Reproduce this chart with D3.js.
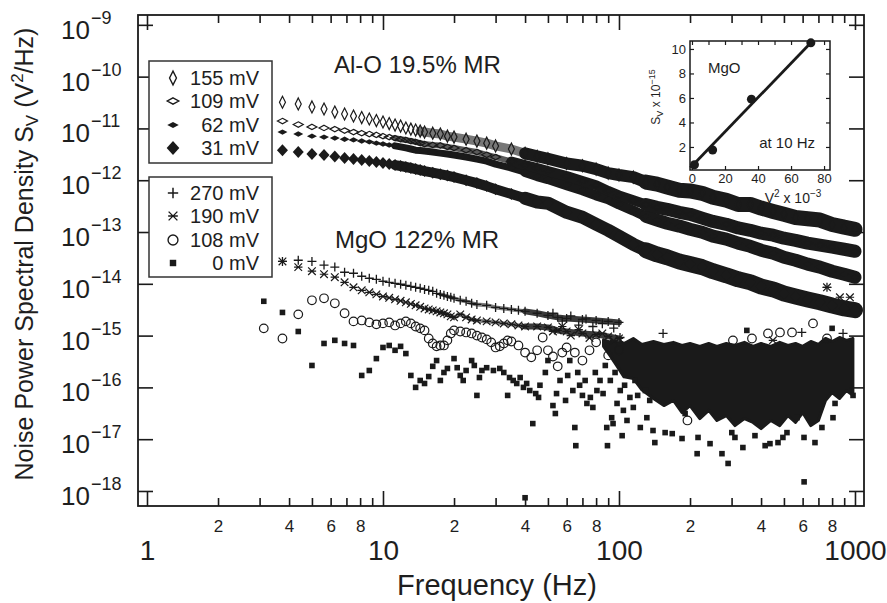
<!DOCTYPE html>
<html>
<head>
<meta charset="utf-8">
<title>Noise power spectral density</title>
<script src="https://cdn.jsdelivr.net/npm/d3@7"></script>
<style>
  html, body { margin: 0; padding: 0; background: #fff; }
  svg text { font-family: "Liberation Sans", Arial, Helvetica, sans-serif; fill: #1e1e1e; }
</style>
</head>
<body>
<svg id="chart" width="887" height="603"></svg>
<script>
// ---- data ----

// Al-O junction (19.5% MR): frequency grid (Hz) and S_V (V^2/Hz) per bias
const alFreq = [3.75, 4.375, 5, 5.625, 6.25, 6.875, 7.5, 8.125, 8.75, 9.375, 10, 10.625, 11.25, 11.875, 12.5, 13.125, 13.75, 14.375, 15, 16.25, 17.5, 18.75, 20, 22.5, 25, 27.5, 30, 35, 40, 45, 50, 60, 70, 80, 90, 100, 115, 130, 145, 160, 180, 200, 225, 250, 285, 320, 360, 400, 450, 500, 560, 630, 710, 800, 900, 1000];
const alO155 = [3.2e-11, 2.97e-11, 2.6e-11, 2.37e-11, 2.07e-11, 1.9e-11, 1.74e-11, 1.62e-11, 1.52e-11, 1.42e-11, 1.33e-11, 1.24e-11, 1.16e-11, 1.11e-11, 1.02e-11, 9.7e-12, 9.3e-12, 8.9e-12, 8.5e-12, 8.1e-12, 7.8e-12, 7.1e-12, 6.8e-12, 6.2e-12, 5.7e-12, 5.2e-12, 4.6e-12, 4.0e-12, 3.3e-12, 2.9e-12, 2.6e-12, 2.1e-12, 1.9e-12, 1.64e-12, 1.37e-12, 1.26e-12, 1.15e-12, 9.2e-13, 8.4e-13, 7.4e-13, 6.4e-13, 6.2e-13, 5.6e-13, 4.7e-13, 4.1e-13, 3.4e-13, 3.4e-13, 2.9e-13, 2.5e-13, 2.2e-13, 1.9e-13, 1.8e-13, 1.7e-13, 1.4e-13, 1.24e-13, 1.13e-13];
const alO109 = [1.39e-11, 1.19e-11, 1.07e-11, 1.02e-11, 9.7e-12, 9.1e-12, 8.5e-12, 8.1e-12, 7.8e-12, 7.5e-12, 7.1e-12, 6.8e-12, 6.5e-12, 6.2e-12, 6.0e-12, 5.7e-12, 5.5e-12, 5.2e-12, 5.0e-12, 4.8e-12, 4.7e-12, 4.4e-12, 4.2e-12, 3.8e-12, 3.5e-12, 3.1e-12, 2.8e-12, 2.3e-12, 1.96e-12, 1.72e-12, 1.5e-12, 1.2e-12, 9.6e-13, 8.0e-13, 6.2e-13, 5.1e-13, 4.1e-13, 3.4e-13, 3.0e-13, 2.75e-13, 2.4e-13, 2.2e-13, 1.85e-13, 1.6e-13, 1.41e-13, 1.2e-13, 1.08e-13, 9.5e-14, 8.7e-14, 7.6e-14, 6.9e-14, 6.1e-14, 5.6e-14, 5.1e-14, 4.65e-14, 4.25e-14];
const alO62 = [8.5e-12, 7.8e-12, 7.1e-12, 6.8e-12, 6.5e-12, 6.2e-12, 6.0e-12, 5.7e-12, 5.5e-12, 5.2e-12, 5.0e-12, 4.8e-12, 4.6e-12, 4.4e-12, 4.2e-12, 4.0e-12, 3.8e-12, 3.73e-12, 3.65e-12, 3.5e-12, 3.34e-12, 3.2e-12, 3.06e-12, 2.8e-12, 2.56e-12, 2.34e-12, 2.05e-12, 1.72e-12, 1.44e-12, 1.2e-12, 1.05e-12, 8.0e-13, 6.4e-13, 5.1e-13, 4.3e-13, 3.4e-13, 2.6e-13, 2.0e-13, 1.7e-13, 1.48e-13, 1.3e-13, 1.13e-13, 9.9e-14, 8.3e-14, 7.3e-14, 6.1e-14, 5.3e-14, 4.45e-14, 3.9e-14, 3.25e-14, 2.85e-14, 2.4e-14, 2.1e-14, 1.75e-14, 1.53e-14, 1.34e-14];
const alO31 = [3.8e-12, 3.5e-12, 3.2e-12, 3.06e-12, 2.86e-12, 2.68e-12, 2.56e-12, 2.45e-12, 2.34e-12, 2.24e-12, 2.14e-12, 2.05e-12, 1.96e-12, 1.88e-12, 1.8e-12, 1.72e-12, 1.64e-12, 1.57e-12, 1.5e-12, 1.4e-12, 1.31e-12, 1.23e-12, 1.15e-12, 1.0e-12, 8.8e-13, 7.7e-13, 6.7e-13, 5.4e-13, 4.5e-13, 3.8e-13, 3.6e-13, 2.4e-13, 1.93e-13, 1.41e-13, 1.08e-13, 8.3e-14, 5.8e-14, 4.45e-14, 3.7e-14, 3.25e-14, 2.7e-14, 2.4e-14, 2.1e-14, 1.75e-14, 1.46e-14, 1.22e-14, 1.07e-14, 8.9e-15, 7.8e-15, 6.5e-15, 5.7e-15, 5.0e-15, 4.4e-15, 3.8e-15, 3.35e-15, 3.1e-15];

// MgO junction (122% MR)
const mgFreq = [3.75, 4.375, 5, 5.625, 6.25, 6.875, 7.5, 8.125, 8.75, 9.375, 10, 10.625, 11.25, 11.875, 12.5, 13.125, 13.75, 14.375, 15, 15.625, 16.25, 16.875, 17.5, 18.125, 18.75, 19.375, 20, 21.25, 22.5, 23.75, 25, 27.5, 30, 32.5, 35, 37.5, 40, 45, 50, 55, 60, 70, 80, 90, 100];
const mg270 = [2.7e-14, 2.85e-14, 2.7e-14, 2.3e-14, 2.1e-14, 1.67e-14, 1.6e-14, 1.4e-14, 1.28e-14, 1.22e-14, 1.12e-14, 1.07e-14, 1.02e-14, 9.8e-15, 9.35e-15, 8.95e-15, 8.55e-15, 8.2e-15, 7.8e-15, 7.5e-15, 7.15e-15, 6.55e-15, 6.25e-15, 6.0e-15, 5.7e-15, 5.5e-15, 5.25e-15, 4.8e-15, 4.6e-15, 4.2e-15, 4.0e-15, 3.85e-15, 3.5e-15, 3.35e-15, 3.2e-15, 3.07e-15, 2.94e-15, 2.7e-15, 2.45e-15, 2.25e-15, 2.15e-15, 2.05e-15, 1.96e-15, 1.88e-15, 1.8e-15];
const mg190 = [2.7e-14, 2.1e-14, 1.75e-14, 1.53e-14, 1.34e-14, 1.07e-14, 8.55e-15, 7.5e-15, 6.85e-15, 6.25e-15, 5.7e-15, 5.36e-15, 5.0e-15, 4.7e-15, 4.4e-15, 4.1e-15, 3.85e-15, 3.6e-15, 3.35e-15, 3.2e-15, 3.07e-15, 2.94e-15, 2.8e-15, 2.7e-15, 2.57e-15, 2.35e-15, 2.25e-15, 2.57e-15, 2.25e-15, 2.05e-15, 1.96e-15, 1.88e-15, 1.8e-15, 1.72e-15, 1.65e-15, 1.57e-15, 1.5e-15, 1.5e-15, 1.44e-15, 1.26e-15, 1.2e-15, 1.1e-15, 1.05e-15, 9.65e-16, 8.8e-16];
const mg270Scatter = [[52.5, 2.7e-15], [57.5, 1.9e-15], [62.5, 2.4e-15], [67.5, 1.6e-15], [72.5, 2.1e-15], [77.5, 1.5e-15], [85, 1.7e-15], [95, 1.4e-15], [101, 9.2e-16], [153.75, 1.1e-15], [595, 1.15e-15], [761, 8.55e-15], [890, 1.1e-15]];
const mg190Scatter = [[52.5, 1.2e-15], [57.5, 1.5e-15], [62.5, 1.0e-15], [67.5, 1.3e-15], [75, 9.0e-16], [85, 1.1e-15], [95, 8.0e-16], [449, 8.1e-16], [761, 8.55e-15], [863, 5.5e-15], [952, 5.5e-15]];
const mg108 = [[3.125, 1.38e-15], [3.75, 8.8e-16], [4.375, 2.57e-15], [5, 4.8e-15], [5.625, 5.25e-15], [6.25, 4.2e-15], [6.875, 2.7e-15], [7.5, 1.88e-15], [8.125, 1.96e-15], [8.75, 1.8e-15], [9.375, 1.65e-15], [10, 1.72e-15], [10.625, 1.8e-15], [11.25, 1.57e-15], [11.875, 1.72e-15], [12.5, 1.88e-15], [13.125, 1.72e-15], [13.75, 1.5e-15], [14.375, 1.38e-15], [15, 1.26e-15], [15.625, 8.8e-16], [16.25, 7.05e-16], [16.875, 6.2e-16], [17.5, 6.45e-16], [18.125, 6.45e-16], [18.75, 8.1e-16], [19.375, 1.1e-15], [20, 1.26e-15], [21.25, 1.2e-15], [22.5, 1.15e-15], [23.75, 1.1e-15], [25, 1.0e-15], [26.25, 9.2e-16], [27.5, 8.45e-16], [28.75, 7.4e-16], [30, 5.9e-16], [31.25, 6.2e-16], [32.5, 7.05e-16], [33.75, 8.1e-16], [35, 7.7e-16], [37.5, 6.45e-16], [40, 4.7e-16], [42.5, 3.8e-16], [45, 5.2e-16], [47.5, 9.2e-16], [50, 5.2e-16], [52.5, 3.95e-16], [55, 2.55e-16], [57.5, 4.7e-16], [60, 5.9e-16], [65, 4.7e-16], [70, 3.3e-16], [75, 5.2e-16], [80, 7.4e-16], [90, 4.15e-16], [100, 5.2e-16], [195, 2.3e-17], [304, 8.1e-16], [366, 8.8e-16], [428, 1.1e-15], [481, 1.15e-15], [541, 1.15e-15], [664, 1.72e-15], [761, 8.8e-16]];
const mg0 = [[3.125, 4.6e-15], [3.75, 2.8e-15], [4.375, 1.2e-15], [5, 2.65e-16], [5.625, 7.05e-16], [6.25, 8.1e-16], [6.875, 7.05e-16], [7.5, 6.45e-16], [8.125, 1.7e-16], [8.75, 2.12e-16], [9.375, 3.6e-16], [10, 5.9e-16], [10.625, 6.45e-16], [11.25, 5.2e-16], [11.875, 6.2e-16], [12.5, 4.5e-16], [13.125, 1.7e-16], [13.75, 1.0e-16], [14.375, 1.36e-16], [15, 1.19e-16], [15.625, 1.62e-16], [16.25, 2.55e-16], [16.875, 3.3e-16], [17.5, 1.36e-16], [18.125, 1.94e-16], [18.75, 2.32e-16], [20, 3.6e-16], [20.625, 2.4e-16], [21.25, 1.7e-16], [21.875, 1.36e-16], [22.5, 2.12e-16], [23.75, 3.3e-16], [24.375, 2.65e-16], [25, 7.0e-17], [25.625, 1.55e-16], [26.25, 2.12e-16], [27.5, 2.4e-16], [29.375, 2.12e-16], [31.25, 2.32e-16], [32.5, 1.94e-16], [33.75, 7.0e-17], [34.375, 1.55e-16], [35.625, 1.36e-16], [36.875, 1.19e-16], [38.125, 1.55e-16], [39.375, 1.0e-16], [40, 7.4e-19], [40.625, 1.19e-16], [41.875, 8.7e-17], [43.125, 2.0e-17], [44.375, 7.6e-17], [45.625, 6.4e-17], [46.25, 1.1e-16], [48.75, 1.94e-16], [50, 3.3e-16], [52.5, 4.46e-17], [53.75, 3.13e-17], [54.375, 7.6e-17], [56.25, 1.36e-16], [59.375, 5.6e-17], [60.625, 1.7e-16], [61.875, 3.3e-16], [63.75, 8.7e-17], [65, 1.68e-17], [65.625, 7.5e-18], [66.875, 1.94e-16], [68.125, 1.1e-16], [70, 7.0e-17], [71.875, 1.36e-16], [73.125, 4.9e-17], [75.625, 6.4e-17], [77.5, 4.1e-17], [79.375, 1.94e-16], [80.625, 8.7e-17], [83.125, 1.36e-16], [85.625, 7.6e-17], [87.5, 2.65e-16], [88.75, 1.68e-17], [89.375, 7.5e-18], [91.875, 1.36e-16], [93.125, 2.6e-17], [94.375, 2.0e-17], [96.25, 1.94e-16], [98.125, 4.9e-17], [101.25, 8.7e-17], [103.125, 1.17e-17], [104.375, 3.6e-17], [105.625, 1.1e-16], [108.125, 2.3e-17], [111.25, 6.4e-17], [115, 4.1e-17], [116.875, 1.36e-16], [120, 7.0e-17], [123.125, 1.68e-17], [129.375, 8.7e-17], [131.25, 2.6e-17], [135, 5.6e-17], [139.375, 1.47e-17], [141.875, 8.6e-18], [156.875, 1.34e-17], [168.125, 1.28e-17], [185, 1.03e-17], [190.625, 3.13e-17], [214.375, 5.25e-18], [216.25, 1.08e-17], [243.125, 8.2e-18], [273.125, 5.25e-18], [290, 3.4e-18], [300.625, 1.34e-17], [310, 1.08e-17], [335, 6.9e-18], [348.125, 1.26e-15], [376.875, 1.17e-17], [416.25, 7.5e-18], [436.25, 8.2e-18], [471.875, 8.6e-18], [495, 1.08e-17], [515, 1.34e-17], [568.125, 2.6e-17], [608.125, 1.08e-17], [608.75, 1.5e-18], [676.875, 8.6e-18], [724.375, 1.68e-17], [800, 1.38e-15], [806.875, 2.6e-17], [823.125, 4.9e-17], [981.25, 7.0e-17]];

// dense MgO noise floor above ~90 Hz: upper and lower edge of the black cloud
const floorFreq = [86, 92, 98, 105, 115, 125, 140, 155, 170, 185, 200, 220, 240, 260, 285, 310, 340, 370, 400, 440, 480, 520, 560, 600, 650, 700, 750, 800, 860, 920, 980];
const floorTop = [8.4e-16, 7.4e-16, 8.1e-16, 7.05e-16, 8.8e-16, 6.75e-16, 7.7e-16, 6.75e-16, 7.4e-16, 6.45e-16, 7.05e-16, 6.2e-16, 7.05e-16, 6.2e-16, 7.05e-16, 6.45e-16, 7.4e-16, 6.2e-16, 7.05e-16, 6.2e-16, 7.4e-16, 6.45e-16, 7.05e-16, 6.2e-16, 7.7e-16, 6.75e-16, 8.8e-16, 7.7e-16, 9.2e-16, 8.1e-16, 8.8e-16];
const floorBottom = [6.2e-16, 4.0e-16, 2.6e-16, 1.6e-16, 1.49e-16, 9.0e-17, 6.1e-17, 4.46e-17, 5.6e-17, 3.27e-17, 4.46e-17, 2.5e-17, 3.6e-17, 2.3e-17, 2.86e-17, 1.83e-17, 2.5e-17, 2.1e-17, 1.6e-17, 2.3e-17, 1.83e-17, 2.86e-17, 2.1e-17, 3.27e-17, 1.83e-17, 2.3e-17, 5.6e-17, 7.95e-17, 6.1e-17, 8.7e-17, 7.0e-17];

// inset: S_V at 10 Hz (x 1e-15) against V^2 (x 1e-3)
const insetV2 = [1.5, 12.5, 36, 72];
const insetSv = [0.55, 1.75, 5.9, 10.5];
const insetFitV2 = [-1, 73];
const insetFitSv = [0.3, 10.65];

// axis ticks and labels
const xMajorTicks = [1, 10, 100, 1000];
const xMajorLabels = ['1', '10', '100', '1000'];
const xMinorTicks = [2, 3, 4, 5, 6, 7, 8, 9, 20, 30, 40, 50, 60, 70, 80, 90, 200, 300, 400, 500, 600, 700, 800, 900];
const xMinorLabels = ['2', '', '4', '', '6', '', '8', '', '2', '', '4', '', '6', '', '8', '', '2', '', '4', '', '6', '', '8', ''];
const yTicks = [1e-9, 1e-10, 1e-11, 1e-12, 1e-13, 1e-14, 1e-15, 1e-16, 1e-17, 1e-18];
const yExponents = ['−9', '−10', '−11', '−12', '−13', '−14', '−15', '−16', '−17', '−18'];
const insetXTicks = [0, 20, 40, 60, 80];
const insetXMinor = [0, 10, 20, 30, 40, 50, 60, 70, 80];
const insetYTicks = [2, 4, 6, 8, 10];

// ---- drawing ----
const ink = '#1a1a1a';
const svg = d3.select('#chart');
const plot = { left: 138, right: 864, top: 15, bottom: 506 };

const x = d3.scaleLog().domain([0.916, 1092]).range([plot.left, plot.right]);
const y = d3.scaleLog().domain([Math.pow(10, -18.29), Math.pow(10, -8.81)]).range([plot.bottom, plot.top]);

const shapes = {
  tallDiamond: 'M0,-6L3,0L0,6L-3,0Z',
  flatDiamond: 'M0,-2.7L5,0L0,2.7L-5,0Z',
  bigDiamond: 'M0,-6L5.5,0L0,6L-5.5,0Z',
  plus: 'M-4.5,0H4.5M0,-4.5V4.5',
  cross: 'M-3.8,-3.8L3.8,3.8M-3.8,3.8L3.8,-3.8M-4.2,0H4.2',
  circle: 'M4.3,0A4.3,4.3 0 1 1 -4.3,0A4.3,4.3 0 1 1 4.3,0',
  square: 'M-2.8,-2.8H2.8V2.8H-2.8Z'
};

const markerStyle = {
  tallDiamond: { fill: 'none', stroke: ink, width: 1.2 },
  flatDiamond: { fill: 'none', stroke: ink, width: 1.2 },
  filledFlat: { fill: ink, stroke: 'none', width: 0 },
  bigDiamond: { fill: ink, stroke: 'none', width: 0 },
  plus: { fill: 'none', stroke: ink, width: 1.3 },
  cross: { fill: 'none', stroke: ink, width: 1.2 },
  circle: { fill: 'none', stroke: ink, width: 1.2 },
  square: { fill: ink, stroke: 'none', width: 0 }
};
const shapePath = (shape) => shapes[shape === 'filledFlat' ? 'flatDiamond' : shape];

function drawMarkers(parent, points, shape) {
  const style = markerStyle[shape];
  parent.append('g')
    .selectAll('path')
    .data(points)
    .join('path')
    .attr('transform', (d) => `translate(${x(d[0])},${y(d[1])})`)
    .attr('d', shapePath(shape))
    .attr('fill', style.fill)
    .attr('stroke', style.stroke)
    .attr('stroke-width', style.width);
}

svg.append('defs')
  .append('clipPath')
  .attr('id', 'plotClip')
  .append('rect')
  .attr('x', plot.left)
  .attr('y', plot.top)
  .attr('width', plot.right - plot.left)
  .attr('height', plot.bottom - plot.top);

const layer = svg.append('g').attr('clip-path', 'url(#plotClip)');
const line = d3.line().x((d) => x(d[0])).y((d) => y(d[1]));

function band(points, lo, hi, width, color) {
  layer.append('path')
    .datum(points.filter((p) => p[0] >= lo && p[0] <= hi))
    .attr('d', line)
    .attr('fill', 'none')
    .attr('stroke', color)
    .attr('stroke-width', width)
    .attr('stroke-linejoin', 'round')
    .attr('stroke-linecap', 'round');
}

// MgO noise floor cloud
const floor = floorFreq.map((f, i) => ({ f, top: floorTop[i], bottom: floorBottom[i] }));
layer.append('path')
  .datum(floor)
  .attr('d', d3.area().x((d) => x(d.f)).y0((d) => y(d.bottom)).y1((d) => y(d.top)))
  .attr('fill', ink)
  .attr('stroke', ink)
  .attr('stroke-width', 3)
  .attr('stroke-linejoin', 'round');

const mg270Points = mgFreq.map((f, i) => [f, mg270[i]]);
const mg190Points = mgFreq.map((f, i) => [f, mg190[i]]);
band(mg270Points, 17, 45, 4, '#808080');
band(mg190Points, 17, 45, 4, '#808080');
band(mg270Points, 40, 100, 6, '#3a3a3a');
band(mg190Points, 40, 100, 6, '#3a3a3a');

drawMarkers(layer, mg0, 'square');
drawMarkers(layer, mg108, 'circle');
drawMarkers(layer, mg190Points.concat(mg190Scatter), 'cross');
drawMarkers(layer, mg270Points.concat(mg270Scatter), 'plus');

// Al-O spectra: dense points blur into bands at higher frequency
const alSeries = [
  { values: alO31, shape: 'bigDiamond', bands: [[11, 42, 10, ink], [38, 150, 13, ink], [130, 1000, 16, ink]] },
  { values: alO62, shape: 'filledFlat', bands: [[11, 42, 7, ink], [38, 150, 10, ink], [130, 1000, 13, ink]] },
  { values: alO109, shape: 'flatDiamond', bands: [[11, 40, 6, '#5a5a5a'], [35, 150, 10, ink], [130, 1000, 13, ink]] },
  { values: alO155, shape: 'tallDiamond', bands: [[14, 42, 9, '#777'], [38, 150, 12, ink], [130, 1000, 15, ink]] }
];
alSeries.forEach((s) => {
  const pts = alFreq.map((f, i) => [f, s.values[i]]);
  s.bands.forEach((b) => band(pts, b[0], b[1], b[2], b[3]));
});
alSeries.forEach((s) => {
  drawMarkers(layer, alFreq.map((f, i) => [f, s.values[i]]), s.shape);
});

// ---- axes ----
function styleAxis(g) {
  g.select('.domain').remove();
  g.selectAll('.tick line').attr('stroke', ink).attr('stroke-width', 1.6);
}

svg.append('g')
  .attr('transform', `translate(0,${plot.bottom})`)
  .call(d3.axisBottom(x).tickValues(xMinorTicks).tickSize(-8).tickPadding(14)
    .tickFormat((d, i) => xMinorLabels[i]))
  .call(styleAxis)
  .selectAll('text').attr('font-size', 17);

svg.append('g')
  .attr('transform', `translate(0,${plot.bottom})`)
  .call(d3.axisBottom(x).tickValues(xMajorTicks).tickSize(-15).tickPadding(34)
    .tickFormat((d, i) => xMajorLabels[i]))
  .call(styleAxis)
  .selectAll('text').attr('font-size', 28);

svg.append('g')
  .attr('transform', `translate(0,${plot.top})`)
  .call(d3.axisTop(x).tickValues(xMinorTicks).tickSize(-8).tickFormat(''))
  .call(styleAxis);

svg.append('g')
  .attr('transform', `translate(0,${plot.top})`)
  .call(d3.axisTop(x).tickValues(xMajorTicks).tickSize(-15).tickFormat(''))
  .call(styleAxis);

svg.append('g')
  .attr('transform', `translate(${plot.left},0)`)
  .call(d3.axisLeft(y).tickValues(yTicks).tickSize(-15).tickFormat(''))
  .call(styleAxis);

svg.append('g')
  .attr('transform', `translate(${plot.right},0)`)
  .call(d3.axisRight(y).tickValues(yTicks).tickSize(-15).tickFormat(''))
  .call(styleAxis);

svg.append('rect')
  .attr('x', plot.left)
  .attr('y', plot.top)
  .attr('width', plot.right - plot.left)
  .attr('height', plot.bottom - plot.top)
  .attr('fill', 'none')
  .attr('stroke', ink)
  .attr('stroke-width', 1.8);

const yLabels = svg.append('g');
yTicks.forEach((v, i) => {
  yLabels.append('text')
    .attr('x', 90)
    .attr('y', y(v) + 14)
    .attr('text-anchor', 'end')
    .attr('font-size', 26)
    .text('10');
  yLabels.append('text')
    .attr('x', 91)
    .attr('y', y(v) - 1)
    .attr('font-size', 18)
    .text(yExponents[i]);
});

const yTitle = svg.append('text')
  .attr('transform', 'translate(33,254) rotate(-90)')
  .attr('text-anchor', 'middle')
  .attr('font-size', 25);
yTitle.append('tspan').text('Noise Power Spectral Density S');
yTitle.append('tspan').attr('font-size', 17).attr('dy', 5).text('V');
yTitle.append('tspan').attr('dy', -5).text(' (V');
yTitle.append('tspan').attr('font-size', 17).attr('dy', -10).text('2');
yTitle.append('tspan').attr('dy', 10).text('/Hz)');

svg.append('text')
  .attr('x', 497)
  .attr('y', 595)
  .attr('text-anchor', 'middle')
  .attr('font-size', 29)
  .text('Frequency (Hz)');

svg.append('text').attr('x', 334).attr('y', 73).attr('font-size', 24).text('Al-O 19.5% MR');
svg.append('text').attr('x', 335).attr('y', 248).attr('font-size', 24).text('MgO 122% MR');

// ---- legends ----
const legendBoxes = [
  { top: 61, bottom: 163, rows: [
    { label: '155 mV', shape: 'tallDiamond' },
    { label: '109 mV', shape: 'flatDiamond' },
    { label: '62 mV', shape: 'filledFlat' },
    { label: '31 mV', shape: 'bigDiamond' }
  ], baselines: [85, 108, 132, 155] },
  { top: 177, bottom: 277, rows: [
    { label: '270 mV', shape: 'plus' },
    { label: '190 mV', shape: 'cross' },
    { label: '108 mV', shape: 'circle' },
    { label: '0 mV', shape: 'square' }
  ], baselines: [200, 223, 247, 270] }
];
legendBoxes.forEach((box) => {
  const g = svg.append('g');
  g.append('rect')
    .attr('x', 149)
    .attr('y', box.top)
    .attr('width', 123)
    .attr('height', box.bottom - box.top)
    .attr('fill', '#fff')
    .attr('stroke', '#333')
    .attr('stroke-width', 1.5);
  box.rows.forEach((row, i) => {
    const base = box.baselines[i];
    const style = markerStyle[row.shape];
    g.append('path')
      .attr('transform', `translate(173,${base - 7}) scale(1.15)`)
      .attr('d', shapePath(row.shape))
      .attr('fill', style.fill)
      .attr('stroke', style.stroke)
      .attr('stroke-width', style.width);
    g.append('text')
      .attr('x', 259)
      .attr('y', base)
      .attr('text-anchor', 'end')
      .attr('font-size', 20)
      .text(row.label);
  });
});

// ---- inset ----
const inset = { left: 690, right: 830, top: 41, bottom: 170 };
const ix = d3.scaleLinear().domain([-1.2, 83.6]).range([inset.left, inset.right]);
const iy = d3.scaleLinear().domain([0.12, 10.65]).range([inset.bottom, inset.top]);
const ig = svg.append('g');

ig.append('g')
  .attr('transform', `translate(0,${inset.bottom})`)
  .call(d3.axisBottom(ix).tickValues(insetXTicks).tickSize(-4).tickPadding(4))
  .call(styleAxis)
  .selectAll('text').attr('font-size', 13);
ig.append('g')
  .attr('transform', `translate(0,${inset.top})`)
  .call(d3.axisTop(ix).tickValues(insetXMinor).tickSize(-4).tickFormat(''))
  .call(styleAxis);
ig.append('g')
  .attr('transform', `translate(${inset.left},0)`)
  .call(d3.axisLeft(iy).tickValues(insetYTicks).tickSize(-4).tickPadding(4))
  .call(styleAxis)
  .selectAll('text').attr('font-size', 13);
ig.append('g')
  .attr('transform', `translate(${inset.right},0)`)
  .call(d3.axisRight(iy).tickValues(insetYTicks).tickSize(-4).tickFormat(''))
  .call(styleAxis);
ig.selectAll('.tick line').attr('stroke-width', 1.2);

ig.append('rect')
  .attr('x', inset.left)
  .attr('y', inset.top)
  .attr('width', inset.right - inset.left)
  .attr('height', inset.bottom - inset.top)
  .attr('fill', 'none')
  .attr('stroke', ink)
  .attr('stroke-width', 1.5);

ig.append('path')
  .datum(insetFitV2.map((v, i) => [v, insetFitSv[i]]))
  .attr('d', d3.line().x((d) => ix(d[0])).y((d) => iy(d[1])))
  .attr('stroke', ink)
  .attr('stroke-width', 2.8)
  .attr('fill', 'none');

ig.selectAll('circle.pt')
  .data(insetV2.map((v, i) => [v, insetSv[i]]))
  .join('circle')
  .attr('class', 'pt')
  .attr('cx', (d) => ix(d[0]))
  .attr('cy', (d) => iy(d[1]))
  .attr('r', 4.5)
  .attr('fill', ink);

ig.append('text').attr('x', 708).attr('y', 73).attr('font-size', 15).text('MgO');
ig.append('text').attr('x', 815).attr('y', 148).attr('text-anchor', 'end').attr('font-size', 15).text('at 10 Hz');

const iyTitle = ig.append('text')
  .attr('transform', 'translate(660,97) rotate(-90)')
  .attr('text-anchor', 'middle')
  .attr('font-size', 12);
iyTitle.append('tspan').text('S');
iyTitle.append('tspan').attr('font-size', 9).attr('dy', 3).text('V');
iyTitle.append('tspan').attr('dy', -3).text(' x 10');
iyTitle.append('tspan').attr('font-size', 9).attr('dy', -5).text('−15');

const ixTitle = ig.append('text')
  .attr('x', 793)
  .attr('y', 203)
  .attr('text-anchor', 'middle')
  .attr('font-size', 14);
ixTitle.append('tspan').text('V');
ixTitle.append('tspan').attr('font-size', 10).attr('dy', -6).text('2');
ixTitle.append('tspan').attr('dy', 6).text(' x 10');
ixTitle.append('tspan').attr('font-size', 10).attr('dy', -6).text('−3');
</script>
</body>
</html>
